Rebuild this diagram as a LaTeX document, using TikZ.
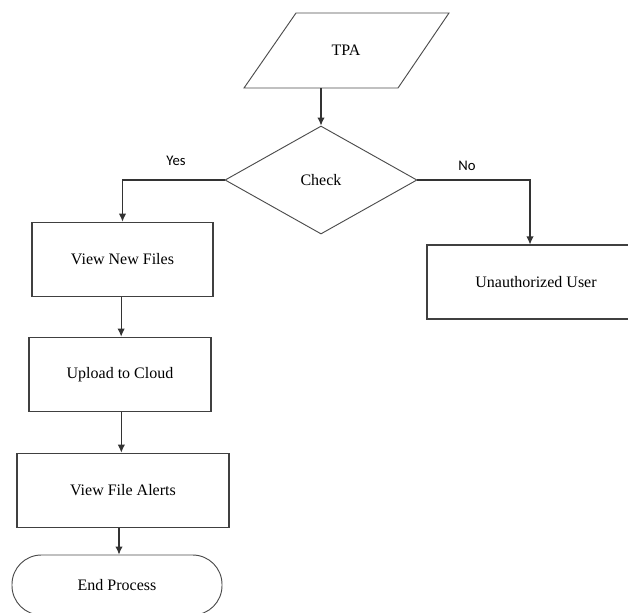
\documentclass[tikz,border=0pt]{standalone}
\usepackage{fontspec}
\setmainfont{Liberation Serif}
\newfontfamily\labelfont{Carlito}
\usepackage{tikz}
\usetikzlibrary{shapes.geometric,arrows.meta}

\tikzset{
  flowline/.style={draw=black!80, line width=0.8pt, -{Latex[length=6pt,width=5.5pt]}},
  procbox/.style={draw=black!75, line width=0.8pt, rectangle, minimum height=56pt, inner sep=0pt, font=\fontsize{12}{14}\selectfont},
  decision/.style={draw=black!70, line width=0.7pt, diamond, minimum width=144pt, minimum height=81pt, inner sep=0pt, font=\fontsize{12}{14}\selectfont},
  terminal/.style={draw=black!70, line width=0.7pt, rectangle, rounded corners=22pt, minimum width=157.5pt, minimum height=45pt, inner sep=0pt, font=\fontsize{12}{14}\selectfont},
  answer/.style={font=\labelfont\fontsize{11}{13}\selectfont}
}

\begin{document}
\begin{tikzpicture}[x=0.75pt, y=-0.75pt]
      \useasboundingbox (0,0) rectangle (628,612);
      \clip (0,0) rectangle (628,612);
      %Input
      \node[font=\fontsize{12}{14}\selectfont] (tpa) at (346,50) {TPA};
      \draw[draw=black!70, line width=0.7pt] (244,88) -- (296,13) -- (449,13) -- (398,88) -- cycle;
      \coordinate (tpaout) at (321,88);
      %Decision
      \node[decision] (check) at (321,180) {Check};
      %Steps
      \node[procbox, minimum width=135.75pt] (newfiles) at (122.5,259.5) {View New Files};
      \node[procbox, minimum width=136.5pt] (upload) at (120,374.5) {Upload to Cloud};
      \node[procbox, minimum width=159pt] (alerts) at (123,490.5) {View File Alerts};
      \node[terminal] (endproc) at (117,585) {End Process};
      \node[procbox, minimum width=163.5pt, minimum height=55.5pt] (unauth) at (536,282) {Unauthorized User};
      %Answers
      \node[answer] (yes) at (176,161) {Yes};
      \node[answer] (no) at (467,166) {No};
      %Arrows
      \draw[flowline] (tpaout) -- (check.north);
      \draw[flowline] (check.west) -| (newfiles.north);
      \draw[flowline] (check.east) -| ([xshift=-4.5pt]unauth.north);
      \draw[flowline] ([xshift=-1pt]newfiles.south) -- ([xshift=-1pt]newfiles.south |- upload.north);
      \draw[flowline] ([xshift=1pt]upload.south) -- ([xshift=1pt]upload.south |- alerts.north);
      \draw[flowline] ([xshift=-3pt]alerts.south) -- ([xshift=-3pt]alerts.south |- endproc.north);
\end{tikzpicture}
\end{document}
